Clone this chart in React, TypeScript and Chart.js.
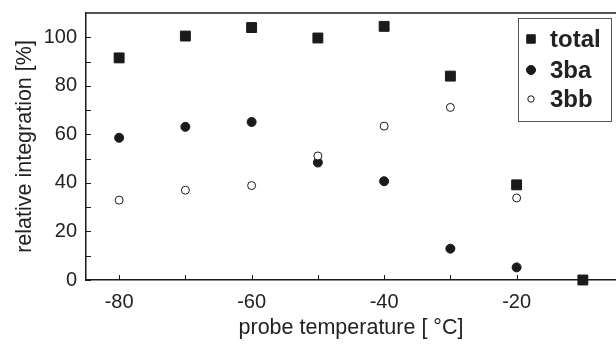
import React, { useEffect, useRef } from "react";
import { Chart, registerables } from "chart.js";

Chart.register(...registerables);

const temperatures = [-80, -70, -60, -50, -40, -30, -20, -10];
const totalValues = [91.5, 100.5, 104, 99.7, 104.5, 84, 39.2, 0];
const ba3Values = [58.6, 63.1, 65.1, 48.4, 40.7, 12.9, 5.2];
const bb3Values = [32.9, 37, 38.9, 51.1, 63.4, 71.1, 33.8];

const xTickValues = [-80, -70, -60, -50, -40, -30, -20, -10];
const xLabelValues = [-80, -60, -40, -20];
const yTickValues = [0, 10, 20, 30, 40, 50, 60, 70, 80, 90, 100];
const yLabelValues = [0, 20, 40, 60, 80, 100];

const seriesNames = ["total", "3ba", "3bb"];

const INK = "#1a1a1a";
const TEXT = "#222222";

const toPoints = (vals: number[]) => vals.map((v, i) => ({ x: temperatures[i], y: v }));

function drawMarker(ctx: CanvasRenderingContext2D, style: string, x: number, y: number, r: number) {
  ctx.beginPath();
  if (style === "rect") {
    const s = r * Math.SQRT1_2;
    ctx.rect(x - s, y - s, 2 * s, 2 * s);
  } else {
    ctx.arc(x, y, r, 0, Math.PI * 2);
  }
  ctx.fill();
  ctx.stroke();
}

const frameAndTicks = {
  id: "frameAndTicks",
  afterDraw(chart: any) {
    const { ctx, chartArea, scales } = chart;
    ctx.save();
    ctx.strokeStyle = INK;
    ctx.lineWidth = 1.5;
    ctx.beginPath();
    ctx.moveTo(chartArea.left, chartArea.top);
    ctx.lineTo(chart.width, chartArea.top);
    ctx.stroke();
    ctx.lineWidth = 1;
    ctx.beginPath();
    xTickValues.forEach((v) => {
      const px = Math.round(scales.x.getPixelForValue(v)) + 0.5;
      ctx.moveTo(px, chartArea.bottom);
      ctx.lineTo(px, chartArea.bottom - 5);
    });
    yTickValues.forEach((v) => {
      const py = Math.round(scales.y.getPixelForValue(v)) + 0.5;
      ctx.moveTo(chartArea.left, py);
      ctx.lineTo(chartArea.left + 5, py);
    });
    ctx.stroke();
    ctx.restore();
  },
};

const boxedLegend = {
  id: "boxedLegend",
  afterDraw(chart: any) {
    const { ctx, chartArea } = chart;
    const right = chart.width - 5;
    const left = right - 93;
    const top = chartArea.top + 5;
    const height = 103;
    ctx.save();
    ctx.fillStyle = "#ffffff";
    ctx.fillRect(left, top, right - left, height);
    ctx.strokeStyle = "#555555";
    ctx.lineWidth = 1;
    ctx.strokeRect(Math.round(left) + 0.5, Math.round(top) + 0.5, right - left, height);
    const legendRadius = [6, 4.5, 3.2];
    const rowY = [top + 21, top + 52, top + 81];
    chart.data.datasets.forEach((ds: any, i: number) => {
      ctx.fillStyle = ds.pointBackgroundColor;
      ctx.strokeStyle = ds.pointBorderColor;
      ctx.lineWidth = 1;
      drawMarker(ctx, ds.pointStyle, left + 13, rowY[i], legendRadius[i]);
      ctx.fillStyle = TEXT;
      ctx.font = "bold 24px 'Liberation Sans', Arial, sans-serif";
      ctx.textBaseline = "middle";
      ctx.textAlign = "left";
      ctx.fillText(seriesNames[i], left + 32, rowY[i] + 1);
    });
    ctx.restore();
  },
};

export default function App() {
  const ref = useRef<HTMLCanvasElement | null>(null);

  useEffect(() => {
    document.body.style.margin = "0";
    const canvas = ref.current;
    if (!canvas) return;
    const chart = new Chart(canvas, {
      type: "scatter",
      data: {
        datasets: [
          {
            label: seriesNames[0],
            data: toPoints(totalValues),
            pointStyle: "rect",
            pointRadius: 7,
            pointBackgroundColor: INK,
            pointBorderColor: INK,
            pointBorderWidth: 1,
            clip: false,
            order: 2,
          },
          {
            label: seriesNames[1],
            data: toPoints(ba3Values),
            pointStyle: "circle",
            pointRadius: 4.5,
            pointBackgroundColor: INK,
            pointBorderColor: INK,
            pointBorderWidth: 1,
            clip: false,
            order: 1,
          },
          {
            label: seriesNames[2],
            data: toPoints(bb3Values),
            pointStyle: "circle",
            pointRadius: 4,
            pointBackgroundColor: "#ffffff",
            pointBorderColor: INK,
            pointBorderWidth: 1,
            clip: false,
            order: 0,
          },
        ] as any,
      },
      options: {
        animation: false,
        responsive: false,
        maintainAspectRatio: false,
        layout: { autoPadding: false, padding: { top: 13, right: 0, left: 0, bottom: 0 } },
        plugins: {
          legend: { display: false },
          tooltip: { enabled: false },
        },
        scales: {
          x: {
            type: "linear",
            min: -85,
            max: -5,
            afterFit: (s: any) => {
              s.height = 65;
              s.paddingLeft = 0;
              s.paddingRight = 0;
            },
            afterBuildTicks: (s: any) => {
              s.ticks = xTickValues.map((v) => ({ value: v }));
            },
            grid: { display: false, drawTicks: false },
            border: { display: true, color: INK, width: 1.5 },
            ticks: {
              padding: 10,
              color: TEXT,
              font: { family: "'Liberation Sans', Arial, sans-serif", size: 20 },
              autoSkip: false,
              maxRotation: 0,
              callback: (v: any) => (xLabelValues.includes(Number(v)) ? String(v) : ""),
            },
            title: {
              display: true,
              text: "probe temperature [ \u00B0C]",
              color: TEXT,
              font: { family: "'Liberation Sans', Arial, sans-serif", size: 21.5 },
              padding: { top: 0, bottom: 4 },
            },
          },
          y: {
            type: "linear",
            min: 0,
            max: 110,
            afterFit: (s: any) => {
              s.width = 86;
              s.paddingTop = 0;
              s.paddingBottom = 0;
            },
            afterBuildTicks: (s: any) => {
              s.ticks = yTickValues.map((v) => ({ value: v }));
            },
            grid: { display: false, drawTicks: false },
            border: { display: true, color: INK, width: 1.5 },
            ticks: {
              padding: 9,
              color: TEXT,
              font: { family: "'Liberation Sans', Arial, sans-serif", size: 20 },
              autoSkip: false,
              callback: (v: any) => (yLabelValues.includes(Number(v)) ? String(v) : ""),
            },
            title: {
              display: true,
              text: "relative integration [%]",
              color: TEXT,
              font: { family: "'Liberation Sans', Arial, sans-serif", size: 21.5 },
              padding: { top: 12, bottom: 0 },
            },
          },
        },
      },
      plugins: [frameAndTicks, boxedLegend],
    });
    return () => chart.destroy();
  }, []);

  return (
    <div style={{ position: "absolute", left: 0, top: 0 }}>
      <canvas ref={ref} width={616} height={345} style={{ display: "block", width: 616, height: 345 }} />
    </div>
  );
}
